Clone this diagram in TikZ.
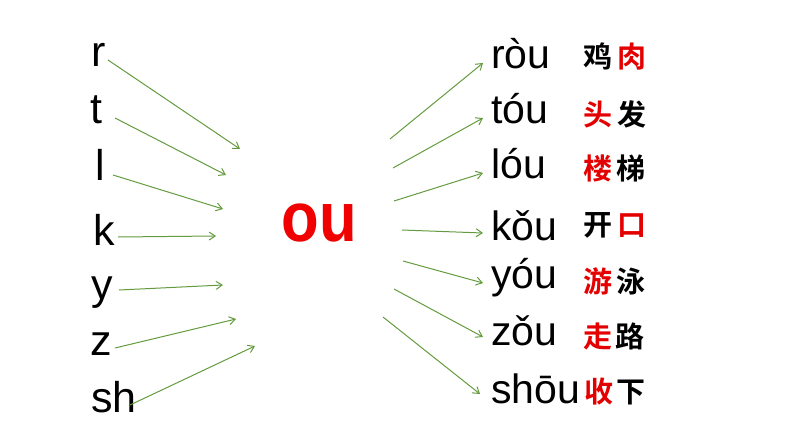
\documentclass[tikz,border=0pt]{standalone}
\usepackage{fontspec}
\setmainfont{Liberation Sans}
\newfontfamily\cjk{Noto Sans CJK SC Bold}
\usetikzlibrary{arrows.meta}
\definecolor{arrgreen}{RGB}{100,155,62}
\definecolor{hanred}{RGB}{228,0,0}
\definecolor{oured}{RGB}{240,0,0}
\tikzset{
  lt/.style={anchor=base west,inner sep=0pt,font=\fontsize{43}{43}\selectfont},
  py/.style={anchor=base west,inner sep=0pt,font=\fontsize{41}{41}\selectfont},
  hz/.style={anchor=west,inner sep=0pt,font=\cjk\fontsize{29}{29}\selectfont},
  arr/.style={draw=arrgreen,line width=1pt,-{Straight Barb[length=6pt,width=8pt]}}
}
\newcommand{\rd}[1]{\textcolor{hanred}{#1}}
\begin{document}
\begin{tikzpicture}[x=1pt,y=-1pt]
\useasboundingbox (0,0) rectangle (794,447);
% left initials
\node[lt] (r) at (91,66) {r};
\node[lt] (t) at (90,123) {t};
\node[lt] (l) at (95,180) {l};
\node[lt] (k) at (93,245) {k};
\node[lt] (y) at (91,299) {y};
\node[lt] (z) at (90,355) {z};
\node[lt] (sh) at (91,412) {sh};
% center final
\node[anchor=base,inner sep=0pt,text=oured,font=\bfseries\fontsize{70}{70}\selectfont] (ou) at (319,241) {\scalebox{0.88}[1]{ou}};
% right syllables
\node[py] (p1) at (491,68) {ròu};
\node[py] (p2) at (491,123) {tóu};
\node[py] (p3) at (491,178) {lóu};
\node[py] (p4) at (491,240) {kǒu};
\node[py] (p5) at (491,288) {yóu};
\node[py] (p6) at (491,345) {zǒu};
\node[py] (p7) at (491,403) {shōu};
% hanzi
\node[hz] (h1) at (583,57) {鸡\hspace{5pt}\rd{肉}};
\node[hz] (h2) at (583,114) {\rd{头}\hspace{5pt}发};
\node[hz] (h3) at (583,168) {\rd{楼}\hspace{4pt}梯};
\node[hz] (h4) at (583,225) {开\hspace{5pt}\rd{口}};
\node[hz] (h5) at (583,281) {\rd{游}\hspace{4pt}泳};
\node[hz] (h6) at (583,336) {\rd{走}\hspace{3pt}路};
\node[hz] (h7) at (584,392) {\rd{收}\hspace{3pt}下};
% left arrows
\coordinate (ra) at (108,60);  \coordinate (rb) at (240,149);
\coordinate (ta) at (115,118); \coordinate (tb) at (226,175);
\coordinate (la) at (113,175); \coordinate (lb) at (223,209);
\coordinate (ka) at (118,237); \coordinate (kb) at (216,236);
\coordinate (ya) at (119,290); \coordinate (yb) at (223,285);
\coordinate (za) at (115,348); \coordinate (zb) at (236,319);
\coordinate (sa) at (130,405); \coordinate (sb) at (255,346);
\draw[arr] (ra) -- (rb);
\draw[arr] (ta) -- (tb);
\draw[arr] (la) -- (lb);
\draw[arr] (ka) -- (kb);
\draw[arr] (ya) -- (yb);
\draw[arr] (za) -- (zb);
\draw[arr] (sa) -- (sb);
% right arrows
\coordinate (a1) at (390,139); \coordinate (b1) at (483,63);
\coordinate (a2) at (393,168); \coordinate (b2) at (483,118);
\coordinate (a3) at (394,201); \coordinate (b3) at (483,173);
\coordinate (a4) at (402,230); \coordinate (b4) at (483,233);
\coordinate (a5) at (403,261); \coordinate (b5) at (483,283);
\coordinate (a6) at (394,289); \coordinate (b6) at (483,337);
\coordinate (a7) at (383,317); \coordinate (b7) at (480,394);
\draw[arr] (a1) -- (b1);
\draw[arr] (a2) -- (b2);
\draw[arr] (a3) -- (b3);
\draw[arr] (a4) -- (b4);
\draw[arr] (a5) -- (b5);
\draw[arr] (a6) -- (b6);
\draw[arr] (a7) -- (b7);
\end{tikzpicture}
\end{document}
